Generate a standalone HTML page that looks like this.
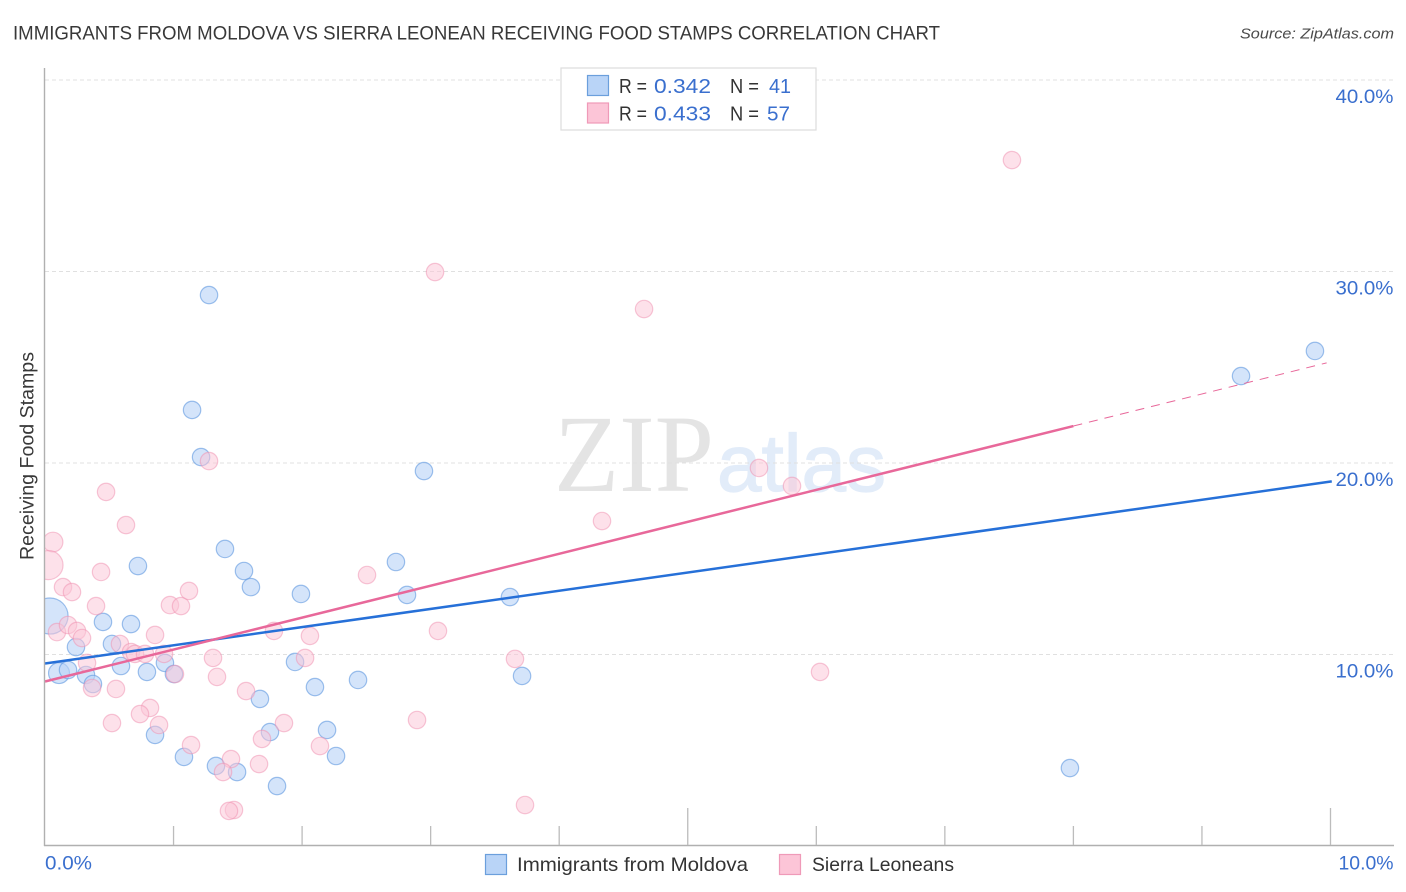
<!DOCTYPE html>
<html lang="en">
<head>
<meta charset="utf-8">
<title>Immigrants from Moldova vs Sierra Leonean Receiving Food Stamps Correlation Chart</title>
<style>
html,body{margin:0;padding:0;background:#fff;width:1406px;height:892px;overflow:hidden}
svg{display:block;font-family:"Liberation Sans",sans-serif}
</style>
</head>
<body>
<svg id="chart" xmlns="http://www.w3.org/2000/svg" width="1406" height="892" viewBox="0 0 1406 892">
  <defs>
    <clipPath id="plot-clip"><rect x="45" y="68" width="1349" height="777"/></clipPath>
  </defs>
  <text x="13" y="39.5" font-size="19" fill="#383838" textLength="927" lengthAdjust="spacingAndGlyphs">IMMIGRANTS FROM MOLDOVA VS SIERRA LEONEAN RECEIVING FOOD STAMPS CORRELATION CHART</text>
  <text x="1394" y="38.5" font-size="15" font-style="italic" fill="#4a4a4a" text-anchor="end" textLength="154" lengthAdjust="spacingAndGlyphs">Source: ZipAtlas.com</text>

  <g>
    <text x="554" y="491" font-family="'Liberation Serif',serif" font-size="110" fill="#e4e4e4" textLength="160" lengthAdjust="spacingAndGlyphs">ZIP</text>
    <text x="717" y="491" font-size="81" fill="#e2ecf9" stroke="#e2ecf9" stroke-width="1.2" textLength="169" lengthAdjust="spacingAndGlyphs">atlas</text>
  </g>

  <g id="grid"></g>
  <g id="points-blue" clip-path="url(#plot-clip)"></g>
  <g id="points-pink" clip-path="url(#plot-clip)"></g>
  <g id="trends"></g>
  <g id="axes"></g>

  <text transform="translate(33.5,560) rotate(-90)" font-size="19" fill="#383838" textLength="208" lengthAdjust="spacingAndGlyphs">Receiving Food Stamps</text>

  <g>
    <rect x="561" y="68" width="255" height="62" fill="#fff" stroke="#dcdcdc" stroke-width="1.2"/>
    <rect x="587.5" y="75.5" width="21" height="20" fill="#b9d4f7" stroke="#6b9fdc" stroke-width="1.2"/>
    <rect x="587.5" y="103" width="21" height="20" fill="#fcc5d7" stroke="#ef9ab8" stroke-width="1.2"/>
    <text x="619" y="93" font-size="20" fill="#333333" textLength="28" lengthAdjust="spacingAndGlyphs">R =</text>
    <text x="654" y="93" font-size="20.5" fill="#3a6fce" textLength="57" lengthAdjust="spacingAndGlyphs">0.342</text>
    <text x="730" y="93" font-size="20" fill="#333333" textLength="29" lengthAdjust="spacingAndGlyphs">N =</text>
    <text x="769" y="93" font-size="20.5" fill="#3a6fce" textLength="22" lengthAdjust="spacingAndGlyphs">41</text>
    <text x="619" y="120.5" font-size="20" fill="#333333" textLength="28" lengthAdjust="spacingAndGlyphs">R =</text>
    <text x="654" y="120.5" font-size="20.5" fill="#3a6fce" textLength="57" lengthAdjust="spacingAndGlyphs">0.433</text>
    <text x="730" y="120.5" font-size="20" fill="#333333" textLength="29" lengthAdjust="spacingAndGlyphs">N =</text>
    <text x="767" y="120.5" font-size="20.5" fill="#3a6fce" textLength="23" lengthAdjust="spacingAndGlyphs">57</text>
  </g>

  <g>
    <rect x="485.5" y="854.5" width="21" height="20" fill="#b9d4f7" stroke="#6b9fdc" stroke-width="1.2"/>
    <text x="517" y="871" font-size="19.5" fill="#333333" textLength="231" lengthAdjust="spacingAndGlyphs">Immigrants from Moldova</text>
    <rect x="779.5" y="854.5" width="21" height="20" fill="#fcc5d7" stroke="#ef9ab8" stroke-width="1.2"/>
    <text x="812" y="871" font-size="19.5" fill="#333333" textLength="142" lengthAdjust="spacingAndGlyphs">Sierra Leoneans</text>
  </g>
</svg>
<script>
var yTicks = [10, 20, 30, 40];
var yTickLabels = ['10.0%', '20.0%', '30.0%', '40.0%'];
var xMinorTicks = [1, 2, 3, 4, 6, 7, 8, 9];
var xMajorTicks = [5, 10];
var xEndTicks = [0, 10];
var xEndLabels = ['0.0%', '10.0%'];

var blueX = [0.039,0.109,0.179,0.241,0.319,0.373,0.451,0.521,0.591,0.669,0.723,0.793,0.856,0.933,1.003,1.081,1.144,1.214,1.276,1.330,1.400,1.494,1.548,1.602,1.672,1.750,1.805,1.945,1.991,2.100,2.194,2.264,2.435,2.730,2.816,2.948,3.617,3.711,7.973,9.304,9.879];
var blueY = [12.01,9.03,9.19,10.39,8.93,8.46,11.70,10.55,9.40,11.59,14.62,9.09,5.80,9.56,8.98,4.65,22.77,20.31,28.77,4.18,15.51,3.86,14.36,13.52,7.68,5.95,3.13,9.61,13.16,8.30,6.06,4.70,8.67,14.83,13.11,19.58,13.00,8.88,4.07,24.54,25.85];
var blueWeight = [4.3,1.45,1,1,1,1,1,1,1,1,1,1,1,1,1,1,1,1,1,1,1,1,1,1,1,1,1,1,1,1,1,1,1,1,1,1,1,1,1,1,1];

var pinkX = [0.630,0.062,0.027,0.436,0.140,0.210,0.397,0.972,1.058,1.120,0.093,0.179,0.249,0.288,0.856,0.583,0.669,0.700,0.778,0.926,0.327,1.011,1.307,1.338,1.781,2.061,2.023,0.552,0.366,1.564,0.817,0.739,0.521,0.887,1.859,1.688,1.136,2.139,1.447,1.665,1.385,1.470,1.431,0.475,1.276,2.505,2.894,3.034,3.057,3.656,3.734,4.333,4.660,5.554,5.811,6.029,7.522];
var pinkY = [16.76,15.87,14.67,14.31,13.52,13.26,12.53,12.58,12.53,13.32,11.17,11.54,11.23,10.86,11.02,10.55,10.13,10.03,10.03,10.03,9.56,8.98,9.82,8.83,11.23,10.97,9.82,8.20,8.25,8.09,7.21,6.89,6.42,6.32,6.42,5.59,5.27,5.22,4.54,4.28,3.86,1.88,1.83,18.49,20.10,14.15,6.58,29.97,11.23,9.77,2.14,16.97,28.04,19.74,18.80,9.09,35.82];
var pinkWeight = [1,1.3,2.8,1,1,1,1,1,1,1,1,1,1,1,1,1,1,1,1,1,1,1,1,1,1,1,1,1,1,1,1,1,1,1,1,1,1,1,1,1,1,1,1,1,1,1,1,1,1,1,1,1,1,1,1,1,1];

var blueTrendX = [0, 10.01];
var blueTrendY = [9.53, 19.04];
var pinkTrendX = [0, 8.0];
var pinkTrendY = [8.59, 21.93];
var pinkDashX = [8.0, 9.97];
var pinkDashY = [21.93, 25.23];

var NS = 'http://www.w3.org/2000/svg';
function xScale(v) { return 45 + v * 128.55; }
function yScale(v) { return 846 - v * 19.15; }
function radius(w) { return 8.7 * Math.sqrt(w); }
function make(tag, attrs, parent) {
  var el = document.createElementNS(NS, tag);
  for (var k in attrs) { el.setAttribute(k, attrs[k]); }
  parent.appendChild(el);
  return el;
}

var grid = document.getElementById('grid');
var axes = document.getElementById('axes');
var pointsBlue = document.getElementById('points-blue');
var pointsPink = document.getElementById('points-pink');
var trends = document.getElementById('trends');

yTicks.forEach(function (t, i) {
  var line = make('line', {x1: 45, x2: 1393, y1: yScale(t), y2: yScale(t), stroke: '#e0e0e0', 'stroke-width': 1, 'stroke-dasharray': '4 3'}, grid);
  
  
  var label = make('text', {x: 1393.5, y: yScale(t) + 23, 'font-size': 19.5, fill: '#3a6fce', 'text-anchor': 'end', textLength: 58, lengthAdjust: 'spacingAndGlyphs'}, axes);
  label.textContent = yTickLabels[i];
  
  
});

var axisY = make('line', {x1: 44.5, x2: 44.5, y1: 68, y2: 846, stroke: '#b0b0b0', 'stroke-width': 1.4}, axes);


var axisX = make('line', {x1: 44, x2: 1394, y1: 845.5, y2: 845.5, stroke: '#b0b0b0', 'stroke-width': 1.4}, axes);



xMinorTicks.forEach(function (t) {
  var tick = make('line', {x1: xScale(t), x2: xScale(t), y1: 826, y2: 845, stroke: '#bcbcbc', 'stroke-width': 1.3}, axes);
  
  
});
xMajorTicks.forEach(function (t) {
  var tick = make('line', {x1: xScale(t), x2: xScale(t), y1: 808, y2: 845, stroke: '#bcbcbc', 'stroke-width': 1.3}, axes);
  
  
});
xEndTicks.forEach(function (t, i) {
  var isLast = i === xEndTicks.length - 1;
  var label = make('text', {x: isLast ? 1393.5 : 45, y: 869.5, 'font-size': 19.5, fill: '#3a6fce', 'text-anchor': isLast ? 'end' : 'start', textLength: isLast ? 55 : 47, lengthAdjust: 'spacingAndGlyphs'}, axes);
  label.textContent = xEndLabels[i];
  
  
});

blueX.forEach(function (v, i) {
  var c = make('circle', {cx: xScale(v), cy: yScale(blueY[i]), r: radius(blueWeight[i]), fill: '#b9d4f7', 'fill-opacity': 0.62, stroke: '#5f97e0', 'stroke-opacity': 0.6, 'stroke-width': 1.2}, pointsBlue);
  
  
});
pinkX.forEach(function (v, i) {
  var c = make('circle', {cx: xScale(v), cy: yScale(pinkY[i]), r: radius(pinkWeight[i]), fill: '#fcc5d7', 'fill-opacity': 0.52, stroke: '#ef8fb0', 'stroke-opacity': 0.5, 'stroke-width': 1.2}, pointsPink);
  
  
});

var blueTrend = make('line', {x1: xScale(blueTrendX[0]), y1: yScale(blueTrendY[0]), x2: xScale(blueTrendX[1]), y2: yScale(blueTrendY[1]), stroke: '#2670d8', 'stroke-width': 2.5}, trends);


var pinkTrend = make('line', {x1: xScale(pinkTrendX[0]), y1: yScale(pinkTrendY[0]), x2: xScale(pinkTrendX[1]), y2: yScale(pinkTrendY[1]), stroke: '#e8689a', 'stroke-width': 2.5}, trends);


var pinkDash = make('line', {x1: xScale(pinkDashX[0]), y1: yScale(pinkDashY[0]), x2: xScale(pinkDashX[1]), y2: yScale(pinkDashY[1]), stroke: '#e8689a', 'stroke-width': 1, 'stroke-dasharray': '9 7'}, trends);


</script>
</body>
</html>
